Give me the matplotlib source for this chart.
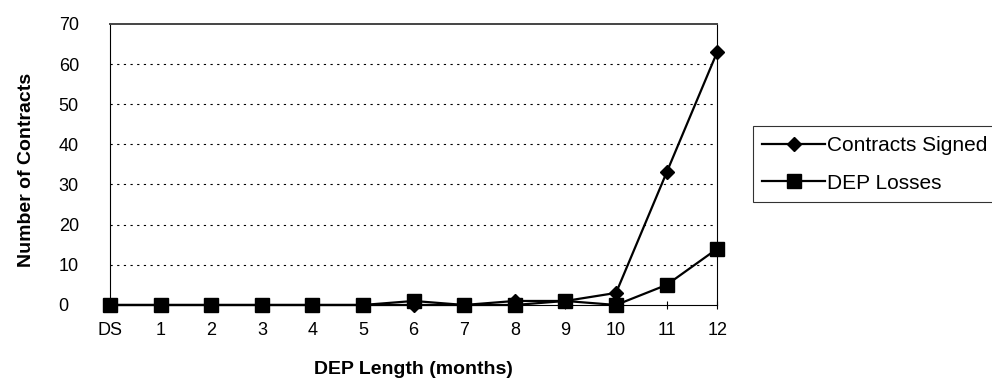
import matplotlib.pyplot as plt

plt.rcParams["font.family"] = ["Liberation Sans", "DejaVu Sans"]

# data
months = ["DS", "1", "2", "3", "4", "5", "6", "7", "8", "9", "10", "11", "12"]
contracts_signed = [0, 0, 0, 0, 0, 0, 0, 0, 1, 1, 3, 33, 63]
dep_losses = [0, 0, 0, 0, 0, 0, 1, 0, 0, 1, 0, 5, 14]
y_ticks = [0, 10, 20, 30, 40, 50, 60, 70]

fig = plt.figure(figsize=(9.92, 3.91), dpi=100)
ax = fig.add_axes([0.111, 0.22, 0.612, 0.719])

x = list(range(len(months)))
ax.plot(x, contracts_signed, color="black", lw=1.6, marker="D", ms=7.5,
        label="Contracts Signed", clip_on=False, zorder=4)
ax.plot(x, dep_losses, color="black", lw=1.6, marker="s", ms=9.5,
        label="DEP Losses", clip_on=False, zorder=3)

ax.set_xlim(0, 12)
ax.set_ylim(0, 70)
ax.set_xticks(x)
ax.set_xticklabels(months)
ax.set_yticks(y_ticks)
ax.tick_params(axis="x", direction="inout", length=6, width=0.8, pad=9, labelsize=13)
ax.tick_params(axis="y", length=0, pad=37, labelsize=13)
for lbl in ax.get_yticklabels():
    lbl.set_horizontalalignment("left")

for g in y_ticks[1:-1]:
    ax.axhline(g, color="black", lw=0.8, ls=(0, (2, 4)), zorder=1)

for side in ["left", "right", "bottom"]:
    ax.spines[side].set_linewidth(0.8)
ax.spines["top"].set_linewidth(1.4)
ax.spines["top"].set_color("#444444")

ax.set_xlabel("DEP Length (months)", fontsize=14, fontweight="bold", labelpad=16)
ax.set_ylabel("Number of Contracts", fontsize=14, fontweight="bold")
ax.yaxis.set_label_coords(-0.124, 0.48)

leg = ax.legend(loc="upper left", bbox_to_anchor=(1.059, 0.635), frameon=True,
                fancybox=False, edgecolor="black", fontsize=15,
                handlelength=3.0, handletextpad=0.1, borderpad=0.45,
                labelspacing=0.9, borderaxespad=0)
leg.get_frame().set_linewidth(0.8)

fig.savefig("out.png", dpi=100)
